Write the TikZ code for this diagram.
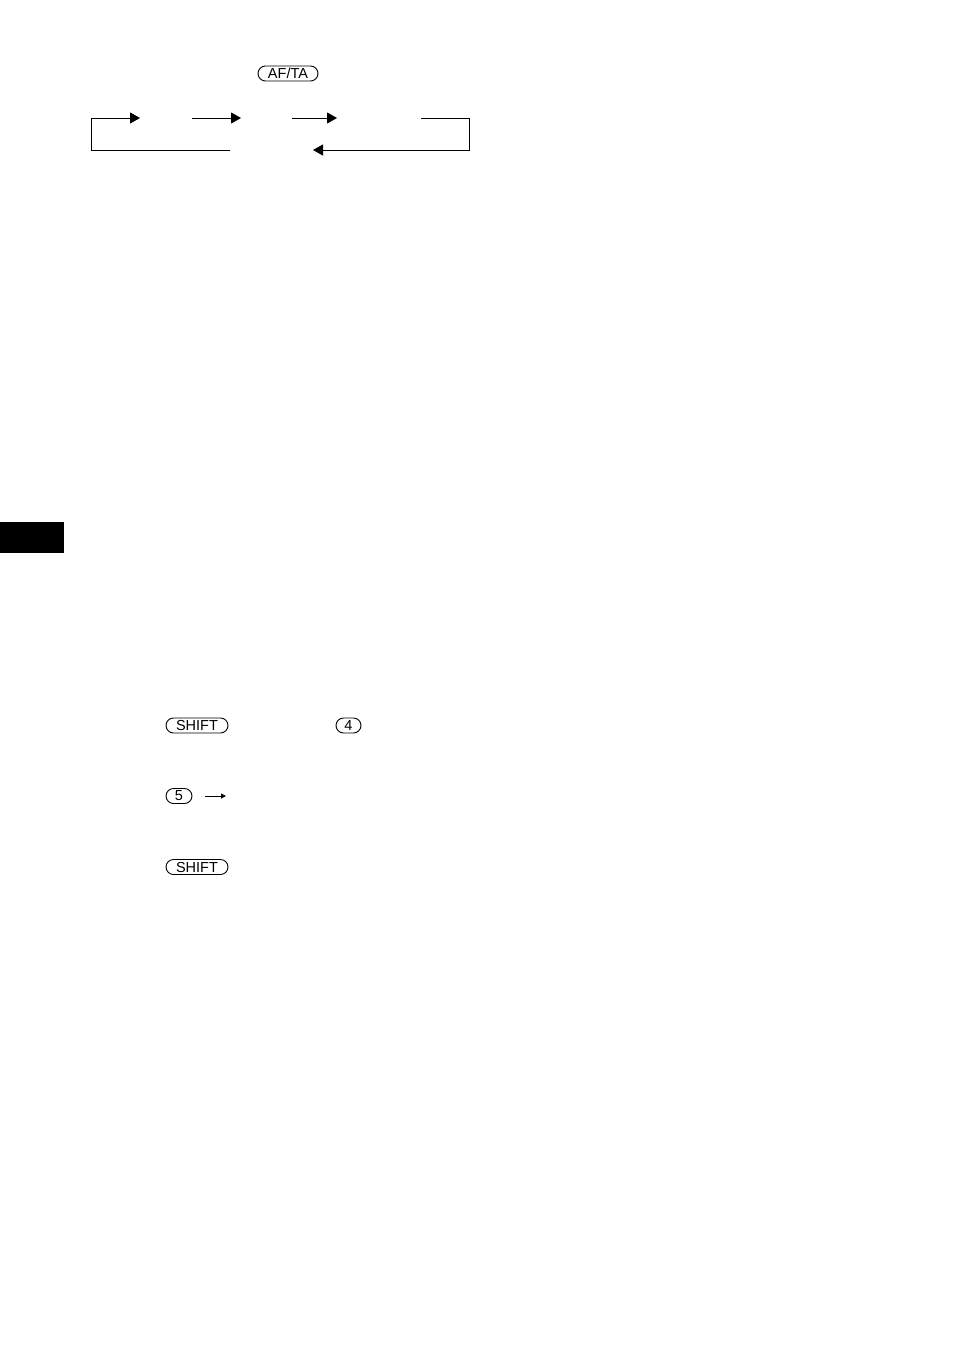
\documentclass[tikz,border=0pt]{standalone}
\usepackage{fontspec}
\setmainfont{Liberation Sans}
\usetikzlibrary{arrows.meta}
\begin{document}
\begin{tikzpicture}[x=1pt,y=-1pt,
  key/.style={draw, line width=0.9pt, rounded corners=7.5pt, minimum height=15pt, inner sep=0pt, font=\fontsize{14.5}{15}\selectfont},
  flow/.style={line width=1pt, -{Triangle[length=10pt,width=11pt]}},
  small/.style={line width=1pt, -{Triangle[length=5pt,width=5pt]}}]
\useasboundingbox (0,0) rectangle (954,1352);
% tab
\fill (0,522) rectangle (64,553);
% keys
\node[key, minimum width=60pt] (afta) at (288,73.5) {AF/TA};
\node[key, minimum width=62pt] (shiftA) at (197,725.5) {SHIFT};
\node[key, minimum width=25pt] (four) at (348.5,725.5) {4};
\node[key, minimum width=26pt] (five) at (179,796) {5};
\node[key, minimum width=62pt] (shiftB) at (197,867) {SHIFT};
% cycle
\coordinate (bl) at (230,150);
\coordinate (lc) at (91,150);
\coordinate (lt) at (91,118);
\coordinate (a1) at (140,118);
\coordinate (b0) at (192,118);
\coordinate (b1) at (241,118);
\coordinate (c0) at (292,118);
\coordinate (c1) at (337,118);
\coordinate (d0) at (421,118);
\coordinate (rt) at (469,118);
\coordinate (rb) at (469,150);
\coordinate (br) at (313,150);
\draw[flow] (bl) -- (lc) -- (lt) -- (a1);
\draw[flow] (b0) -- (b1);
\draw[flow] (c0) -- (c1);
\draw[flow] (d0) -- (rt) -- (rb) -- (br);
% small arrow
\coordinate (s0) at (205,796);
\coordinate (s1) at (226,796);
\draw[small] (s0) -- (s1);
\end{tikzpicture}
\end{document}
